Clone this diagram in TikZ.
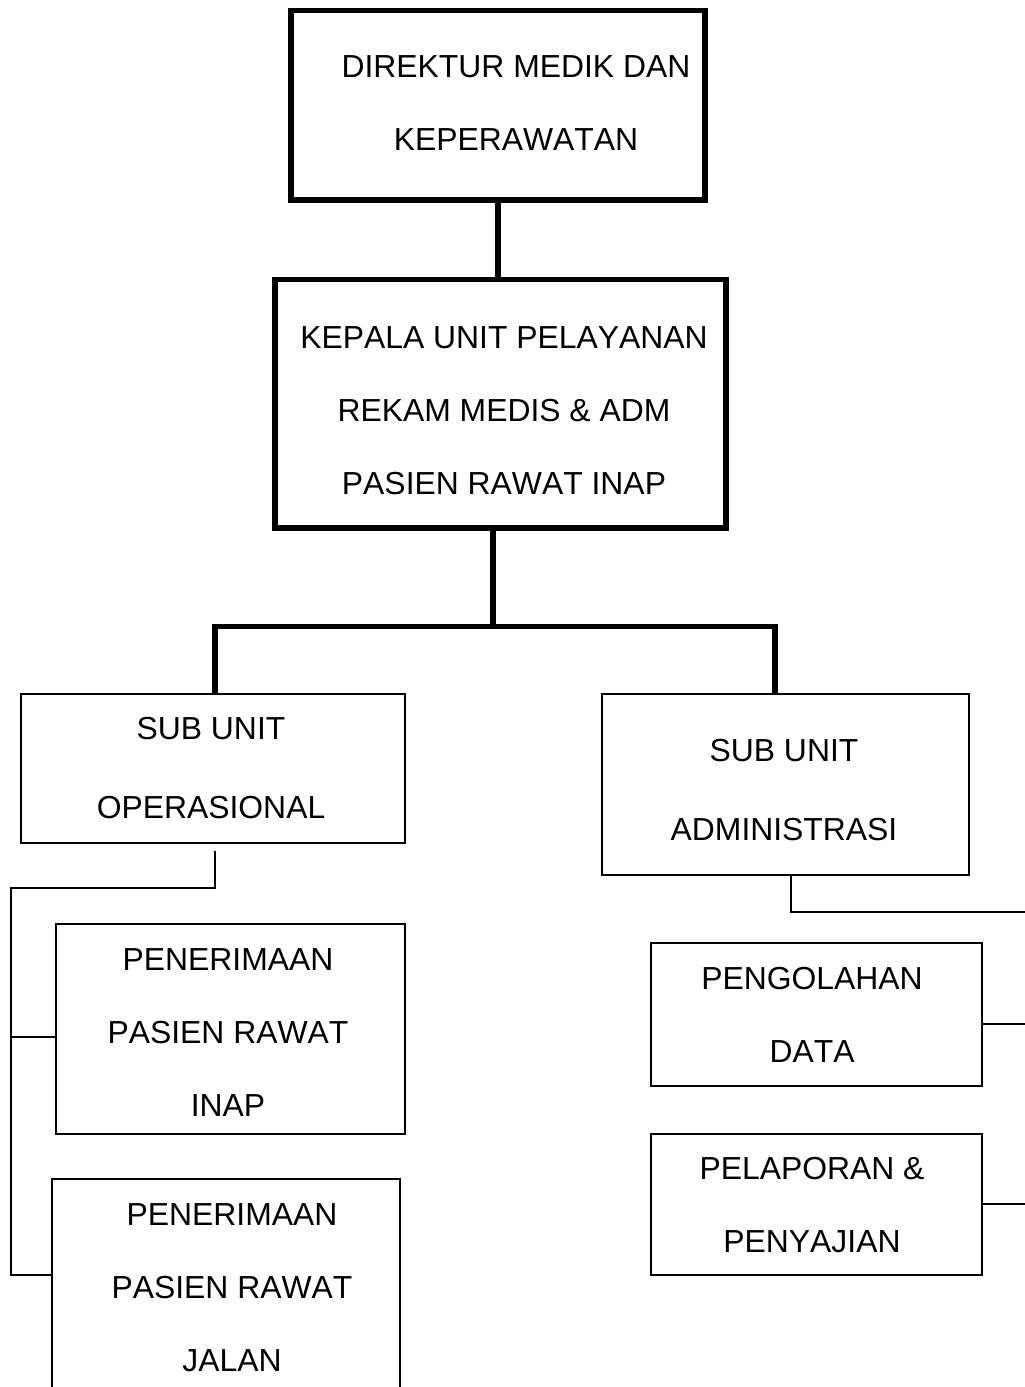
\documentclass[tikz,border=0pt]{standalone}
\usepackage{fontspec}
\setmainfont[Kerning=Off]{Liberation Sans}

\tikzset{every picture/.style={line width=0.75pt}}
\tikzset{
  thickbox/.style={draw, rectangle, line width=4pt, inner sep=0pt},
  thinbox/.style={draw, rectangle, line width=1.4pt, inner sep=0pt},
  thickline/.style={line width=4pt},
  thinline/.style={line width=1.4pt},
  lbl/.style={inner sep=0pt, align=center, font=\fontsize{23.9}{54.75}\selectfont}
}

\begin{document}
\begin{tikzpicture}[x=0.75pt,y=0.75pt,yscale=-1,xscale=1]
\useasboundingbox (0,0) rectangle (1024,1387);
%Shape: Rectangle [id:direktur]
\node [thickbox, minimum width=414*0.75pt, minimum height=189.5*0.75pt] (dir) at (498,105.25) {};
%Shape: Rectangle [id:kepala]
\node [thickbox, minimum width=451*0.75pt, minimum height=248.5*0.75pt] (kepala) at (500.5,403.75) {};
%Shape: Rectangle [id:operasional]
\node [thinbox, minimum width=384*0.75pt, minimum height=149*0.75pt] (opr) at (213,768.5) {};
%Shape: Rectangle [id:administrasi]
\node [thinbox, minimum width=367*0.75pt, minimum height=181*0.75pt] (adm) at (785.5,784.5) {};
%Shape: Rectangle [id:inap]
\node [thinbox, minimum width=349*0.75pt, minimum height=210*0.75pt] (inap) at (230.5,1029) {};
%Shape: Rectangle [id:jalan] (runs off the page)
\node [thinbox, minimum width=348.3*0.75pt, minimum height=241*0.75pt] (jalan) at (225.85,1299.5) {};
%Shape: Rectangle [id:olah]
\node [thinbox, minimum width=331*0.75pt, minimum height=143*0.75pt] (olah) at (816.5,1014.5) {};
%Shape: Rectangle [id:lapor]
\node [thinbox, minimum width=331*0.75pt, minimum height=141*0.75pt] (lapor) at (816.5,1204.5) {};

% Coordinates
\coordinate (busL) at (215,626.5);
\coordinate (busM) at (493,626.5);
\coordinate (busR) at (775,626.5);
\coordinate (oprTail) at (215,851);
\coordinate (oprBend) at (215,888);
\coordinate (spineTop) at (11,888);
\coordinate (spineInap) at (11,1037);
\coordinate (spineJalan) at (11,1275);
\coordinate (admBend) at (791,912);
\coordinate (edgeTop) at (1030,912);
\coordinate (edgeOlah) at (1030,1024);
\coordinate (edgeLapor) at (1030,1204);

%Straight Lines [id:thick]
\draw [thickline] (dir.south) -- (kepala.north -| dir.south);
\draw [thickline] (kepala.south -| busM) -- (busM);
\draw [thickline] (opr.north -| busL) -- (busL) -- (busR) -- (adm.north -| busR);
%Straight Lines [id:thin]
\draw [thinline] (oprTail) -- (oprBend) -- (spineTop) -- (spineJalan) -- (jalan.west |- spineJalan);
\draw [thinline] (spineInap) -- (inap.west |- spineInap);
\draw [thinline] (adm.south -| admBend) -- (admBend) -- (edgeTop);
\draw [thinline] (olah.east |- edgeOlah) -- (edgeOlah);
\draw [thinline] (lapor.east |- edgeLapor) -- (edgeLapor);

% Text Node
\node [lbl] (dirtxt) at (516,103.5) {DIREKTUR MEDIK DAN\\KEPERAWATAN};
% Text Node
\node [lbl] (kepalatxt) at (504,410.5) {KEPALA UNIT PELAYANAN\\REKAM MEDIS \& ADM\\PASIEN RAWAT INAP};
% Text Node
\node [lbl] (oprtxt) at (211,768.5) {SUB UNIT\\[4.5pt]OPERASIONAL};
% Text Node
\node [lbl] (admtxt) at (784,790) {SUB UNIT\\[4pt]ADMINISTRASI};
% Text Node
\node [lbl] (inaptxt) at (228,1032.5) {PENERIMAAN\\PASIEN RAWAT\\INAP};
% Text Node
\node [lbl] (jalantxt) at (232,1287.5) {PENERIMAAN\\PASIEN RAWAT\\JALAN};
% Text Node
\node [lbl] (olahtxt) at (812,1015) {PENGOLAHAN\\DATA};
% Text Node
\node [lbl] (laportxt) at (812,1205.5) {PELAPORAN \&\\PENYAJIAN};
\end{tikzpicture}
\end{document}
